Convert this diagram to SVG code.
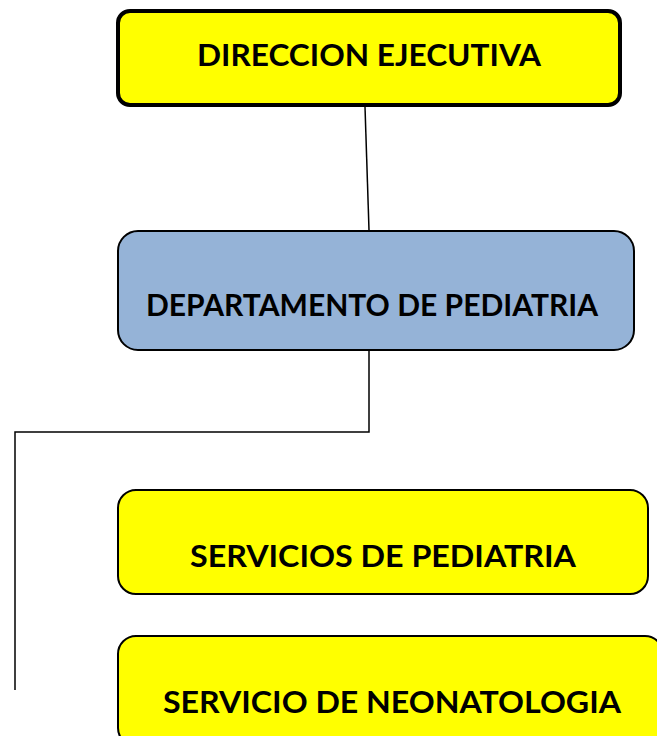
<svg xmlns="http://www.w3.org/2000/svg" width="657" height="736" viewBox="0 0 657 736">
<style>
.t{font-family:Lato,"Liberation Sans",sans-serif;font-weight:bold;font-size:30px;fill:#000;text-anchor:middle}
.y{fill:#FFFF00;stroke:#000;stroke-width:2}
.c{fill:none;stroke:#000;stroke-width:1.5}
</style>
<rect width="657" height="736" fill="#fff"/>
<g id="connectors">
<line class="c" x1="365" y1="107" x2="369" y2="230"/>
<polyline class="c" points="369,350 369,432 15,432 15,690"/>
</g>
<g id="direccion">
<rect x="118" y="11" width="502" height="94" rx="12" fill="#FFFF00" stroke="#000" stroke-width="4"/>
<text class="t" x="369" y="66" textLength="344" lengthAdjust="spacingAndGlyphs">DIRECCION EJECUTIVA</text>
</g>
<g id="departamento">
<rect x="118" y="231" width="516" height="119" rx="20" fill="#95B3D7" stroke="#000" stroke-width="2"/>
<text class="t" x="372" y="316" textLength="452" lengthAdjust="spacingAndGlyphs">DEPARTAMENTO DE PEDIATRIA</text>
</g>
<g id="servicios">
<rect class="y" x="118" y="490" width="530" height="104" rx="18"/>
<text class="t" x="383" y="567" textLength="386" lengthAdjust="spacingAndGlyphs">SERVICIOS DE PEDIATRIA</text>
</g>
<g id="neonatologia">
<rect class="y" x="118" y="636" width="545" height="110" rx="18"/>
<text class="t" x="392" y="713" textLength="458" lengthAdjust="spacingAndGlyphs">SERVICIO DE NEONATOLOGIA</text>
</g>
</svg>
